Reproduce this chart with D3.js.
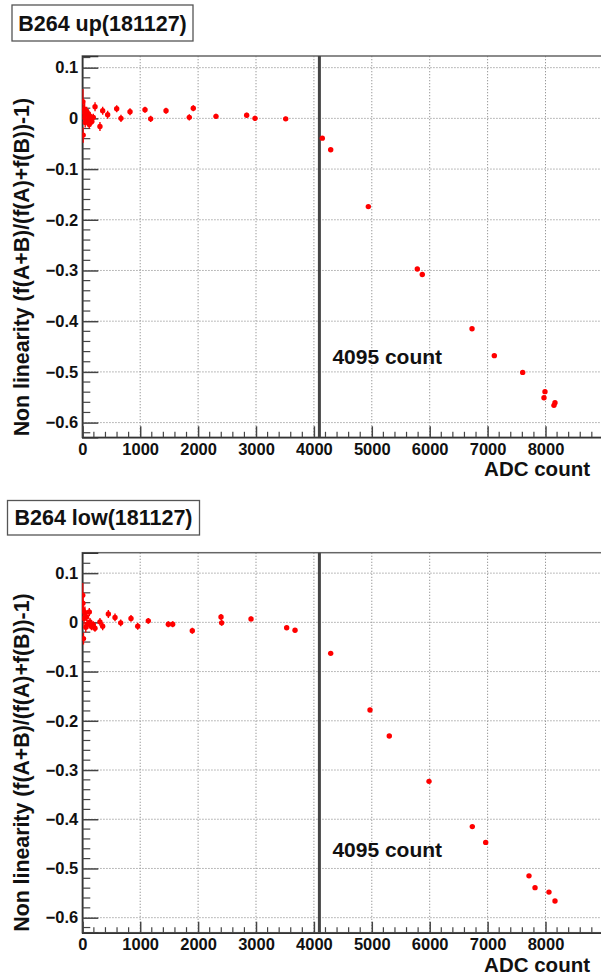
<!DOCTYPE html>
<html>
<head>
<meta charset="utf-8">
<script src="https://cdn.jsdelivr.net/npm/d3@7"></script>
<style>
  html, body { margin: 0; padding: 0; background: #fff; }
  svg { display: block; }
  text { font-family: "Liberation Sans", Arial, Helvetica, sans-serif; font-weight: bold; fill: #111; }
</style>
</head>
<body>
<svg id="chart" width="601" height="979"></svg>
<script>
// ---------- data ----------
const titles = ["B264 up(181127)", "B264 low(181127)"];
const xTitle = "ADC count";
const yTitle = "Non linearity (f(A+B)/(f(A)+f(B))-1)";
const saturationADC = 4095;
const saturationLabel = "4095 count";
const xTickValues = [0, 1000, 2000, 3000, 4000, 5000, 6000, 7000, 8000];
const yTickValues = [0.1, 0, -0.1, -0.2, -0.3, -0.4, -0.5, -0.6];

const upADC = [10, 15, 20, 30, 40, 50, 60, 75, 90, 105, 120, 140, 165, 190, 220, 305, 352, 438, 594, 668, 824, 1083, 1181, 1446, 1848, 1917, 2309, 2839, 2983, 3513, 4145, 4290, 4940, 5786, 5872, 6731, 7116, 7606, 7991, 7974, 8164, 8146];
const upNL  = [0.033, -0.033, 0.012, 0.002, 0.018, -0.008, 0.006, 0.014, -0.004, 0.009, -0.012, 0.004, -0.006, 0.002, 0.023, -0.016, 0.015, 0.007, 0.019, 0.0, 0.013, 0.017, -0.001, 0.015, 0.002, 0.02, 0.004, 0.006, 0.0, -0.001, -0.039, -0.062, -0.174, -0.297, -0.308, -0.415, -0.468, -0.501, -0.539, -0.551, -0.561, -0.566];
const upErr = [0.025, 0.015, 0.015, 0.012, 0.012, 0.01, 0.01, 0.009, 0.008, 0.008, 0.008, 0.007, 0.007, 0.007, 0.009, 0.009, 0.008, 0.008, 0.007, 0.007, 0.007, 0.006, 0.006, 0.006, 0.006, 0.006, 0.005, 0.005, 0.005, 0.004, 0, 0, 0, 0, 0, 0, 0, 0, 0, 0, 0, 0];

const lowADC = [7, 10, 12, 20, 30, 45, 60, 75, 95, 121, 133, 160, 190, 219, 305, 352, 450, 565, 663, 841, 957, 1140, 1486, 1561, 1900, 2396, 2407, 2914, 3530, 3674, 4290, 4969, 5302, 5988, 6736, 6967, 7715, 7819, 8060, 8164];
const lowNL  = [0.055, 0.039, 0.025, -0.033, 0.008, 0.02, -0.01, 0.011, -0.004, 0.021, 0.001, -0.009, -0.005, -0.012, 0.001, -0.008, 0.017, 0.01, -0.001, 0.008, -0.008, 0.003, -0.004, -0.004, -0.017, 0.011, -0.001, 0.007, -0.011, -0.016, -0.063, -0.178, -0.231, -0.323, -0.415, -0.447, -0.515, -0.539, -0.548, -0.566];
const lowErr = [0.025, 0.02, 0.02, 0.012, 0.015, 0.012, 0.01, 0.01, 0.009, 0.008, 0.008, 0.007, 0.007, 0.007, 0.008, 0.008, 0.008, 0.008, 0.007, 0.007, 0.007, 0.006, 0.006, 0.006, 0.006, 0.006, 0.006, 0.005, 0.004, 0.004, 0, 0, 0, 0, 0, 0, 0, 0, 0, 0];

// ---------- layout ----------
const panels = [
  { title: titles[0], adc: upADC, nl: upNL, err: upErr,
    box: { x: 12, y: 5, w: 181, h: 36 },
    frame: { left: 82.3, right: 603.4, top: 56, bottom: 437.3 },
    yDomain: [-0.629, 0.123], labelY: 364, xLabelBase: 455, xTitleBase: 476 },
  { title: titles[1], adc: lowADC, nl: lowNL, err: lowErr,
    box: { x: 7.5, y: 500.5, w: 192, h: 34.5 },
    frame: { left: 82.3, right: 603.4, top: 552.7, bottom: 932.7 },
    yDomain: [-0.6305, 0.1415], labelY: 857, xLabelBase: 950, xTitleBase: 971.5 }
];

const svg = d3.select("#chart");
const fmtY = v => (v < 0 ? "\u2212" : "") + (v === 0 ? "0" : Math.abs(v).toFixed(1).replace(/\.0$/, ""));

panels.forEach((p, i) => {
  const g = svg.append("g");
  const f = p.frame;
  const x = d3.scaleLinear().domain([0, 9000]).range([f.left, f.right]);
  const y = d3.scaleLinear().domain(p.yDomain).range([f.bottom, f.top]);

  const clipId = "clip" + i;
  svg.append("clipPath").attr("id", clipId).append("rect")
    .attr("x", f.left).attr("y", f.top).attr("width", f.right - f.left).attr("height", f.bottom - f.top);

  // grid
  const grid = g.append("g").attr("stroke", "#999").attr("stroke-width", 1).attr("stroke-dasharray", "1.3,1.7");
  xTickValues.filter(v => v > 0).forEach(v => {
    grid.append("line").attr("x1", x(v)).attr("x2", x(v)).attr("y1", f.top).attr("y2", f.bottom);
  });
  yTickValues.forEach(v => {
    grid.append("line").attr("x1", f.left).attr("x2", f.right).attr("y1", y(v)).attr("y2", y(v));
  });

  // frame
  g.append("rect").attr("x", f.left).attr("y", f.top).attr("width", f.right - f.left).attr("height", f.bottom - f.top)
    .attr("fill", "none").attr("stroke", "#666").attr("stroke-width", 1.5);

  // y axis
  const yAxis = d3.axisLeft(y).tickValues(yTickValues).tickSize(-16).tickPadding(4).tickFormat(fmtY);
  const ya = g.append("g").attr("transform", `translate(${f.left},0)`).call(yAxis);
  ya.select(".domain").attr("stroke", "#333").attr("stroke-width", 1.5);
  ya.selectAll(".tick line").attr("stroke", "#444").attr("stroke-width", 1.5);
  ya.selectAll(".tick text").attr("font-size", 16.5).attr("font-weight", "bold").attr("fill", "#111")
    .attr("font-family", "Liberation Sans, Arial, sans-serif");
  const yMinor = d3.range(-0.62, 0.14, 0.02).map(v => +v.toFixed(2))
    .filter(v => v >= p.yDomain[0] && v <= p.yDomain[1] && Math.abs(Math.round(v * 10) - v * 10) > 1e-6);
  g.append("g").selectAll("line").data(yMinor).join("line")
    .attr("x1", f.left).attr("x2", f.left + 8).attr("y1", d => y(d)).attr("y2", d => y(d))
    .attr("stroke", "#444").attr("stroke-width", 1.2);

  // x axis
  const xAxis = d3.axisBottom(x).tickValues(xTickValues).tickSize(-11).tickPadding(0).tickFormat(d3.format("d"));
  const xa = g.append("g").attr("transform", `translate(0,${f.bottom})`).call(xAxis);
  xa.select(".domain").attr("stroke", "#333").attr("stroke-width", 1.5);
  xa.selectAll(".tick line").attr("stroke", "#444").attr("stroke-width", 1.5);
  xa.selectAll(".tick text").attr("font-size", 16.5).attr("font-weight", "bold").attr("fill", "#111")
    .attr("font-family", "Liberation Sans, Arial, sans-serif")
    .attr("dy", null).attr("y", p.xLabelBase - f.bottom);
  const xMinor = d3.range(200, 9000, 200).filter(v => v % 1000 !== 0);
  g.append("g").selectAll("line").data(xMinor).join("line")
    .attr("x1", d => x(d)).attr("x2", d => x(d)).attr("y1", f.bottom).attr("y2", f.bottom - 5.5)
    .attr("stroke", "#444").attr("stroke-width", 1.2);

  // saturation line
  g.append("line").attr("x1", x(saturationADC)).attr("x2", x(saturationADC))
    .attr("y1", f.top).attr("y2", f.bottom).attr("stroke", "#444").attr("stroke-width", 3);

  // data
  const data = p.adc.map((a, k) => ({ a, v: p.nl[k], e: p.err[k] }));
  const dg = g.append("g").attr("clip-path", `url(#${clipId})`);
  dg.selectAll("line.err").data(data.filter(d => d.e > 0)).join("line").attr("class", "err")
    .attr("x1", d => x(d.a)).attr("x2", d => x(d.a))
    .attr("y1", d => y(d.v + d.e)).attr("y2", d => y(d.v - d.e))
    .attr("stroke", "#ff0000").attr("stroke-width", 1.4);
  dg.selectAll("circle").data(data).join("circle")
    .attr("cx", d => x(d.a)).attr("cy", d => y(d.v)).attr("r", 2.7).attr("fill", "#ff0000");

  // saturation label
  g.append("text").attr("x", x(saturationADC) + 13).attr("y", p.labelY)
    .attr("font-size", 21).text(saturationLabel);

  // axis titles
  g.append("text").attr("x", 590).attr("y", p.xTitleBase).attr("text-anchor", "end")
    .attr("font-size", 20.5).text(xTitle);
  g.append("text").attr("transform", `translate(29,${f.bottom - 1}) rotate(-90)`).attr("text-anchor", "start")
    .attr("font-size", 21.3).text(yTitle);

  // title box
  g.append("rect").attr("x", p.box.x).attr("y", p.box.y).attr("width", p.box.w).attr("height", p.box.h)
    .attr("fill", "#fff").attr("stroke", "#555").attr("stroke-width", 1.3);
  g.append("text").attr("x", p.box.x + p.box.w / 2).attr("y", p.box.y + p.box.h / 2 + 7.5)
    .attr("text-anchor", "middle").attr("font-size", 21.5).text(p.title);
});
</script>
</body>
</html>
